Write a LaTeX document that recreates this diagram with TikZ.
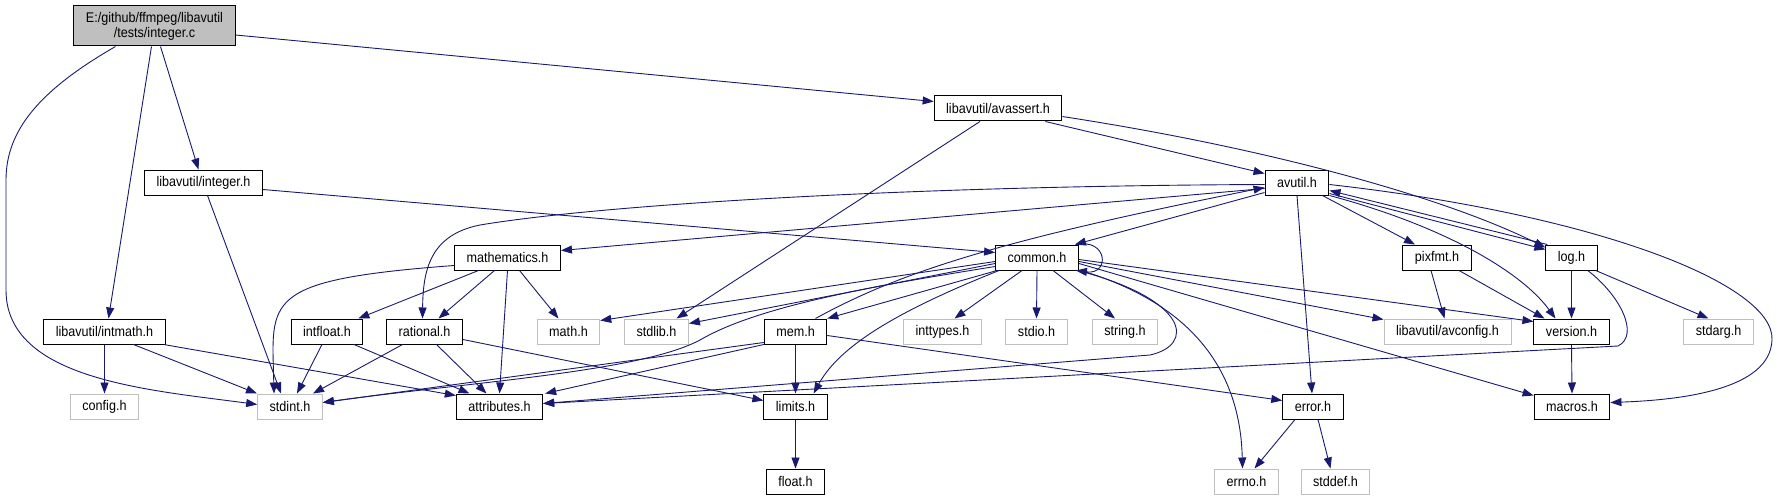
\documentclass[tikz,border=0pt]{standalone}
\usepackage{fontspec}
\newfontfamily\doxfont{Liberation Sans}[FakeStretch=0.9]
\usepackage{xcolor}
\definecolor{EdgeBlue}{HTML}{191970}
\definecolor{SysGray}{HTML}{BFBFBF}
\usepackage{tikz}
\usetikzlibrary{calc,arrows.meta}

\begin{document}
\begin{tikzpicture}[x=1pt,y=-1pt,
 doc/.style={rectangle,draw=black,fill=white,line width=1pt,inner xsep=12pt,inner ysep=0pt,minimum height=25pt,font=\doxfont\fontsize{14}{15}\selectfont},
 sys/.style={doc,draw=SysGray},
 src/.style={doc,fill=SysGray,align=center,minimum height=40pt},
 dep/.style={draw=EdgeBlue,line width=0.9pt,-{Triangle[length=11pt,width=8pt]}}]
\useasboundingbox[fill=white] (0,0) rectangle (1777,500);
\node[src] (main) at (154.5,26) {E:/github/ffmpeg/libavutil\\/tests/integer.c};
\node[doc] (avassert) at (998,108.5) {libavutil/avassert.h};
\node[doc] (integer) at (203.5,182.5) {libavutil/integer.h};
\node[doc] (avutil) at (1297,182.5) {avutil.h};
\node[doc] (mathematics) at (507.5,257.5) {mathematics.h};
\node[doc] (common) at (1037,257.5) {common.h};
\node[doc] (pixfmt) at (1437,257.5) {pixfmt.h};
\node[doc] (log) at (1571.5,257.5) {log.h};
\node[doc] (intmath) at (104.5,331.5) {libavutil/intmath.h};
\node[doc] (intfloat) at (327,331.5) {intfloat.h};
\node[doc] (rational) at (424.5,331.5) {rational.h};
\node[sys] (mathh) at (568.5,331.5) {math.h};
\node[sys] (stdlib) at (656.5,331.5) {stdlib.h};
\node[doc] (mem) at (795.5,331.5) {mem.h};
\node[sys] (inttypes) at (942.5,331.5) {inttypes.h};
\node[sys] (stdio) at (1036.5,331.5) {stdio.h};
\node[sys] (stringh) at (1125,331.5) {string.h};
\node[sys] (avconfig) at (1447.5,331.5) {libavutil/avconfig.h};
\node[doc] (version) at (1571.5,331.5) {version.h};
\node[sys] (stdarg) at (1718.5,331.5) {stdarg.h};
\node[sys] (config) at (104.5,406.5) {config.h};
\node[sys] (stdint) at (290,406.5) {stdint.h};
\node[doc] (attributes) at (499.5,406.5) {attributes.h};
\node[doc] (limits) at (795.5,406.5) {limits.h};
\node[doc] (error) at (1313,406.5) {error.h};
\node[doc] (macros) at (1572,406.5) {macros.h};
\node[doc] (float) at (795.5,481.5) {float.h};
\node[sys] (errno) at (1246.5,481.5) {errno.h};
\node[sys] (stddef) at (1335.5,481.5) {stddef.h};

\foreach \a/\b in {intmath/config,mem/limits,limits/float,common/stdio,log/version,version/macros,mathematics/attributes}
 \draw[dep] (\a.south) -- (\b.north);

\draw[dep] ($(main.east)+(0,9)$) -- ($(avassert.west)+(0,-7)$);
\draw[dep] ($(main.south)+(6,0)$) -- ($(integer.north)+(-5,0)$);
\draw[dep] ($(main.south)+(-3,0)$) -- ($(intmath.north)+(4,0)$);
\draw[dep] ($(main.south)+(-39,0)$) .. controls (40,90) and (6,130) .. (6,180) -- (6,290)
 .. controls (6,380) and (150,390) .. ($(stdint.west)+(0,-2)$);
\draw[dep] ($(integer.east)+(0,7)$) -- ($(common.west)+(0,-5)$);
\draw[dep] ($(integer.south)+(4,0)$) -- ($(stdint.north)+(-9,0)$);
\draw[dep] ($(intmath.south)+(29,0)$) -- ($(stdint.north)+(-33,0)$);
\draw[dep] ($(intmath.south east)+(-2,0)$) -- ($(attributes.north west)+(0,2)$);
\draw[dep] ($(intfloat.south)+(-5,0)$) -- ($(stdint.north)+(7,0)$);
\draw[dep] ($(intfloat.south)+(27,0)$) -- ($(attributes.north)+(-30,0)$);
\draw[dep] ($(rational.south)+(-22,0)$) -- ($(stdint.north)+(23,0)$);
\draw[dep] ($(rational.south)+(12,0)$) -- ($(attributes.north)+(-13,0)$);
\draw[dep] ($(rational.east)+(0,8)$) -- ($(limits.west)+(0,-6)$);
\draw[dep] ($(mathematics.south)+(-29,0)$) -- ($(intfloat.north east)+(-5,0)$);
\draw[dep] ($(mathematics.south)+(-13,0)$) -- ($(rational.north)+(14,0)$);
\draw[dep] ($(mathematics.south)+(12,0)$) -- ($(mathh.north)+(-10,0)$);
\draw[dep] ($(mathematics.west)+(0,8)$) .. controls (260,280) and (272,300) .. ($(stdint.north)+(-16,0)$);

\draw[dep] ($(avassert.south)+(-18,0)$) -- ($(stdlib.north)+(20,0)$);
\draw[dep] ($(avassert.south east)+(-17,0)$) -- ($(avutil.west)+(0,-9)$);
\draw[dep] ($(avassert.east)+(0,8)$) .. controls (1280,150) and (1450,200) .. ($(log.north west)+(0,3)$);

\draw[dep] ($(avutil.west)+(0,2)$) .. controls (900,186) and (600,205) .. (480,225)
 .. controls (430,235) and (423,270) .. ($(rational.north)+(-2,0)$);
\draw[dep] ($(avutil.west)+(0,6)$) -- ($(mathematics.east)+(0,-7)$);
\draw[dep] ($(avutil.west)+(0,10)$) -- ($(common.north east)+(-4,0)$);
\draw[dep] ($(mem.north)+(20,0)$) .. controls (900,272) and (1000,240) .. ($(avutil.west)+(0,5)$);
\draw[dep] (avutil.south) -- ($(error.north)+(-1,0)$);
\draw[dep] ($(avutil.south east)+(-7,0)$) -- ($(pixfmt.north)+(-22,0)$);
\draw[dep] ($(avutil.south east)+(0,-2)$) -- ($(log.west)+(0,-8)$);
\draw[dep] ($(log.north west)+(2,0)$) -- ($(avutil.east)+(0,8)$);
\draw[dep] (avutil.south east) .. controls (1440,225) and (1520,270) .. ($(version.north)+(-16,0)$);
\draw[dep] ($(avutil.east)+(0,2)$) .. controls (1600,215) and (1775,285) .. (1772,340)
 .. controls (1770,390) and (1680,400) .. ($(macros.east)+(0,-4)$);

\draw[dep] ($(common.north east)+(-3,0)$) .. controls (1108,238) and (1110,275) .. ($(common.south east)+(-3,0)$);
\draw[dep] ($(common.west)+(0,4)$) -- ($(mathh.north east)+(0,2)$);
\draw[dep] ($(common.west)+(0,6)$) -- ($(stdlib.east)+(0,-8)$);
\draw[dep] ($(common.south west)+(2,0)$) -- (mem.north east);
\draw[dep] ($(common.south)+(-15,0)$) -- ($(inttypes.north)+(12,0)$);
\draw[dep] ($(common.south)+(16,0)$) -- ($(stringh.north)+(-10,0)$);
\draw[dep] ($(common.south west)+(4,0)$) .. controls (900,310) and (840,345) .. ($(limits.north east)+(-14,0)$);
\draw[dep] ($(common.west)+(0,9)$) .. controls (880,285) and (760,305) .. (700,340)
 .. controls (640,372) and (470,382) .. ($(stdint.east)+(0,-4)$);
\draw[dep] ($(common.south east)+(-1,0)$) .. controls (1190,300) and (1195,345) .. (1150,355)
 -- ($(attributes.east)+(0,-3)$);
\draw[dep] ($(common.east)+(0,6)$) -- ($(macros.north west)+(0,2)$);
\draw[dep] ($(common.east)+(0,4)$) -- ($(avconfig.north west)+(0,1)$);
\draw[dep] ($(common.east)+(0,2)$) -- ($(version.west)+(0,-10)$);
\draw[dep] ($(common.south east)+(2,0)$) .. controls (1180,300) and (1240,360) .. ($(errno.north)+(-4,0)$);

\draw[dep] ($(mem.south west)+(0,-2)$) -- ($(stdint.east)+(0,-4)$);
\draw[dep] (mem.south west) -- ($(attributes.north east)+(2,0)$);
\draw[dep] ($(mem.east)+(0,4)$) -- ($(error.west)+(0,-6)$);

\draw[dep] ($(pixfmt.south)+(-6,0)$) -- ($(avconfig.north)+(-3,0)$);
\draw[dep] ($(pixfmt.south)+(22,0)$) -- ($(version.north)+(-27,0)$);
\draw[dep] ($(log.south east)+(-2,0)$) -- ($(stdarg.north)+(-10,0)$);
\draw[dep] ($(log.south east)+(-10,0)$) .. controls (1620,295) and (1640,335) .. (1618,346)
 -- ($(attributes.east)+(0,-3)$);
\draw[dep] ($(error.south)+(-18,0)$) -- ($(errno.north)+(8,0)$);
\draw[dep] ($(error.south)+(5,0)$) -- ($(stddef.north)+(-5,0)$);
\end{tikzpicture}
\end{document}
